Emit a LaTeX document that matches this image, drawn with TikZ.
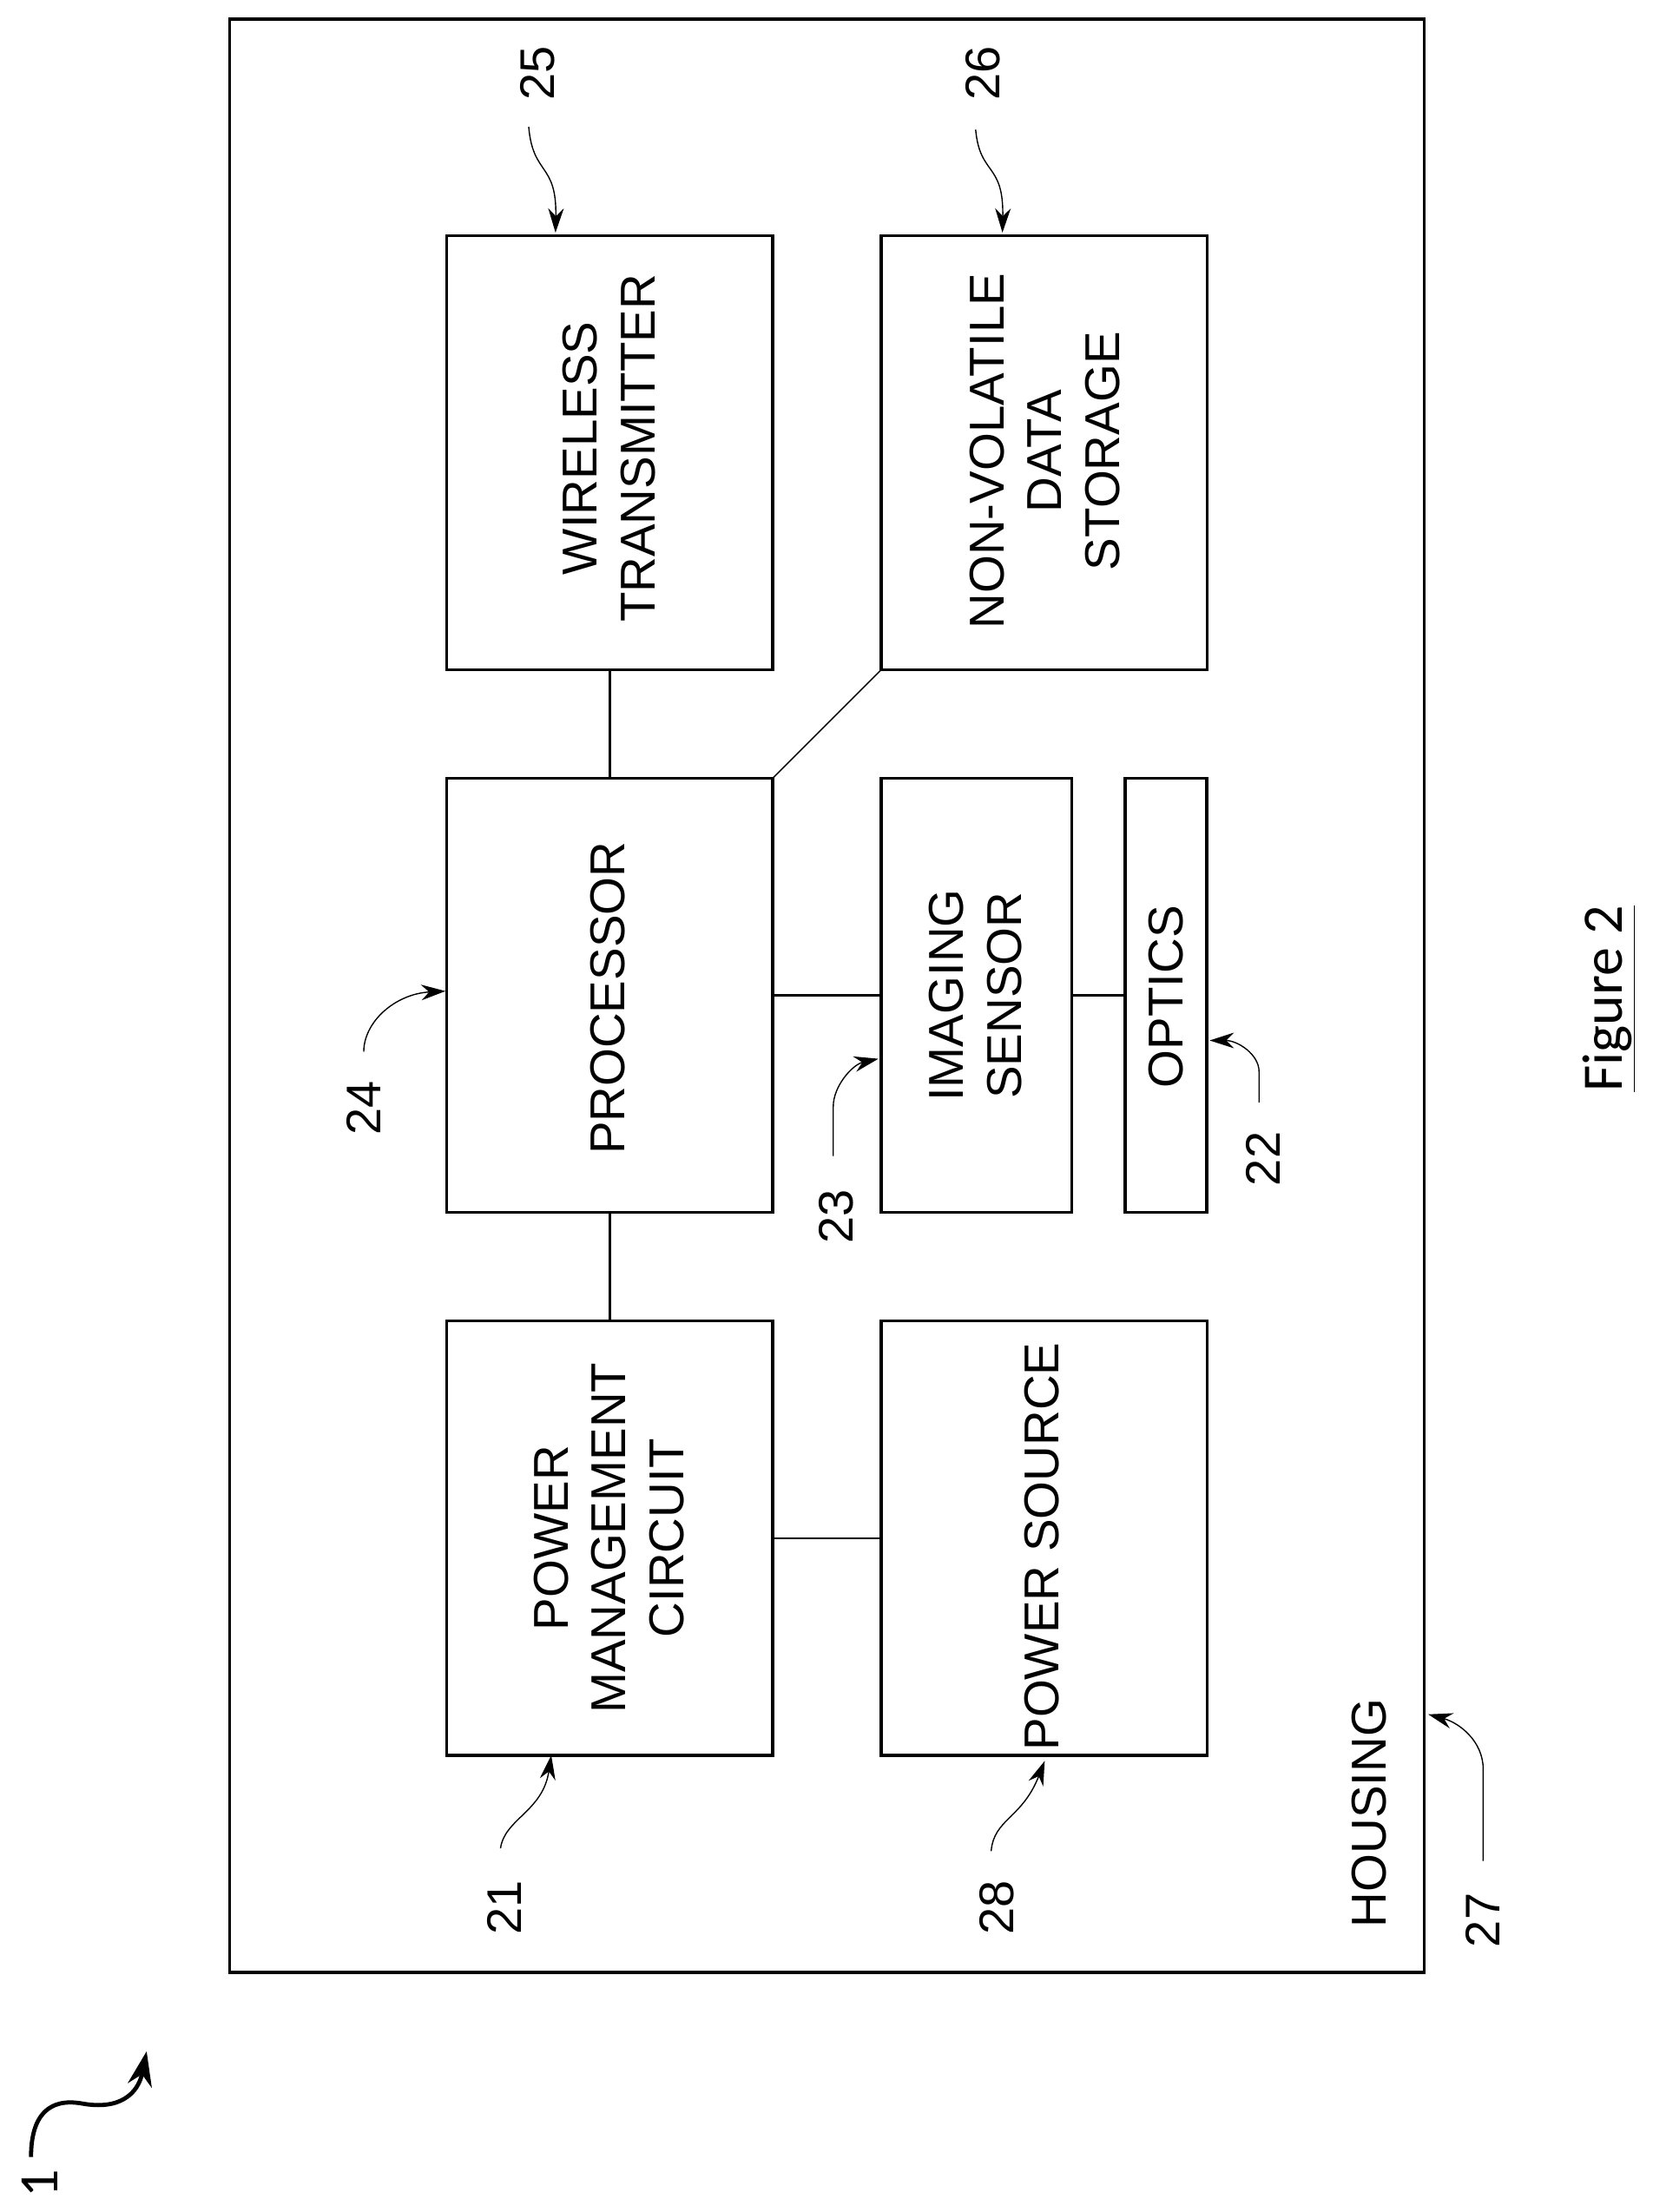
\documentclass[tikz,border=0pt]{standalone}
\usepackage{fontspec}
\setmainfont{Liberation Sans}
\newfontfamily\calfont{Carlito}
\usetikzlibrary{arrows.meta}
\tikzset{
  blockbox/.style={draw=black,line width=1.65pt,inner sep=0pt,outer sep=0pt,anchor=north west,minimum height=250.1pt},
  widebox/.style={blockbox,minimum width=187.6pt},
  conn/.style={draw=black,line width=1.1pt},
  refarrow/.style={draw=black,line width=0.7pt,-{Stealth[length=14pt,width=9pt]}},
  boxtext/.style={rotate=90,align=center,font=\fontsize{28.2}{33.3}\selectfont,inner sep=0pt},
  reflabel/.style={rotate=90,font=\fontsize{28}{32}\selectfont,inner sep=0pt}
}
\begin{document}
\begin{tikzpicture}[x=0.812pt,y=-0.812pt]
\useasboundingbox (0,0) rectangle (1172.4,1569);
% housing
\draw[draw=black,line width=1.65pt] (163,13.5) rectangle (1010,1399);
% blocks
\node[widebox] (wt) at (317,167) {};
\node[widebox] (nv) at (625,167) {};
\node[widebox] (pr) at (317,552) {};
\node[blockbox,minimum width=109.6pt] (im) at (625,552) {};
\node[blockbox,minimum width=47.1pt] (op) at (798,552) {};
\node[widebox] (pm) at (317,937) {};
\node[widebox] (ps) at (625,937) {};
% block texts
\node[boxtext] (twt) at (432,318) {WIRELESS\\TRANSMITTER};
\node[boxtext] (tnv) at (741,320) {NON-VOLATILE\\DATA\\STORAGE};
\node[boxtext] (tpr) at (431,708) {PROCESSOR};
\node[boxtext] (tim) at (692,706) {IMAGING\\SENSOR};
\node[boxtext] (top) at (827,707) {OPTICS};
\node[boxtext] (tps) at (739,1097) {POWER SOURCE};
\node[boxtext] (tpm) at (432,1091) {POWER\\MANAGEMENT\\CIRCUIT};
\node[boxtext] (tho) at (971,1286) {HOUSING};
% connectors
\draw[conn] (wt.south) -- (pr.north);
\draw[conn,line width=0.8pt] (nv.south west) -- (pr.north east);
\draw[conn] (pr.east) -- (im.west);
\draw[conn] (im.east) -- (op.west);
\draw[conn] (pr.south) -- (pm.north);
\draw[conn] (pm.east) -- (ps.west);
% reference labels
\node[reflabel] (l25) at (381,52) {25};
\node[reflabel] (l26) at (697,52) {26};
\node[reflabel] (l24) at (258,786) {24};
\node[reflabel] (l23) at (593,863) {23};
\node[reflabel] (l22) at (896,822) {22};
\node[reflabel] (l21) at (358,1353) {21};
\node[reflabel] (l28) at (707,1353) {28};
\node[reflabel] (l27) at (1052,1362) {27};
\node[rotate=90,font=\calfont\fontsize{32}{36}\selectfont,inner sep=0pt] (l1) at (28,1549) {1};
\node[rotate=90,font=\calfont\fontsize{33}{38}\selectfont,inner sep=0pt] (fig) at (1141,708.5) {\underline{Figure 2}};
% free ends
\coordinate (a25) at (375,90); \coordinate (b25) at (394,165);
\coordinate (a26) at (692,92); \coordinate (b26) at (711,165);
\coordinate (a24) at (258,746); \coordinate (b24) at (316,703);
\coordinate (a23) at (591,820); \coordinate (b23) at (623,751);
\coordinate (a22) at (893,782); \coordinate (b22) at (858,738);
\coordinate (a21) at (355,1311); \coordinate (b21) at (391,1245);
\coordinate (a28) at (703,1313); \coordinate (b28) at (741,1249);
\coordinate (a27) at (1052,1320); \coordinate (b27) at (1013,1216);
\coordinate (a1) at (22,1530); \coordinate (b1) at (104,1455);
% reference arrows
\draw[refarrow] (a25) .. controls (378,125) and (395,115) .. (b25);
\draw[refarrow] (a26) .. controls (695,125) and (712,115) .. (b26);
\draw[refarrow] (a24) .. controls (258,725) and (280,705) .. (b24);
\draw[refarrow] (a23) -- (591,785) .. controls (591,770) and (605,755) .. (b23);
\draw[refarrow] (a22) -- (893,760) .. controls (893,748) and (878,738) .. (b22);
\draw[refarrow] (a21) .. controls (358,1290) and (385,1285) .. (b21);
\draw[refarrow] (a28) .. controls (705,1290) and (725,1290) .. (b28);
\draw[refarrow] (a27) -- (1052,1255) .. controls (1052,1235) and (1035,1222) .. (b27);
\draw[line width=2.4pt,-{Stealth[length=20pt,width=14pt]}] (a1) .. controls (22,1500) and (35,1488) .. (58,1492) .. controls (85,1497) and (98,1485) .. (b1);
\end{tikzpicture}
\end{document}
